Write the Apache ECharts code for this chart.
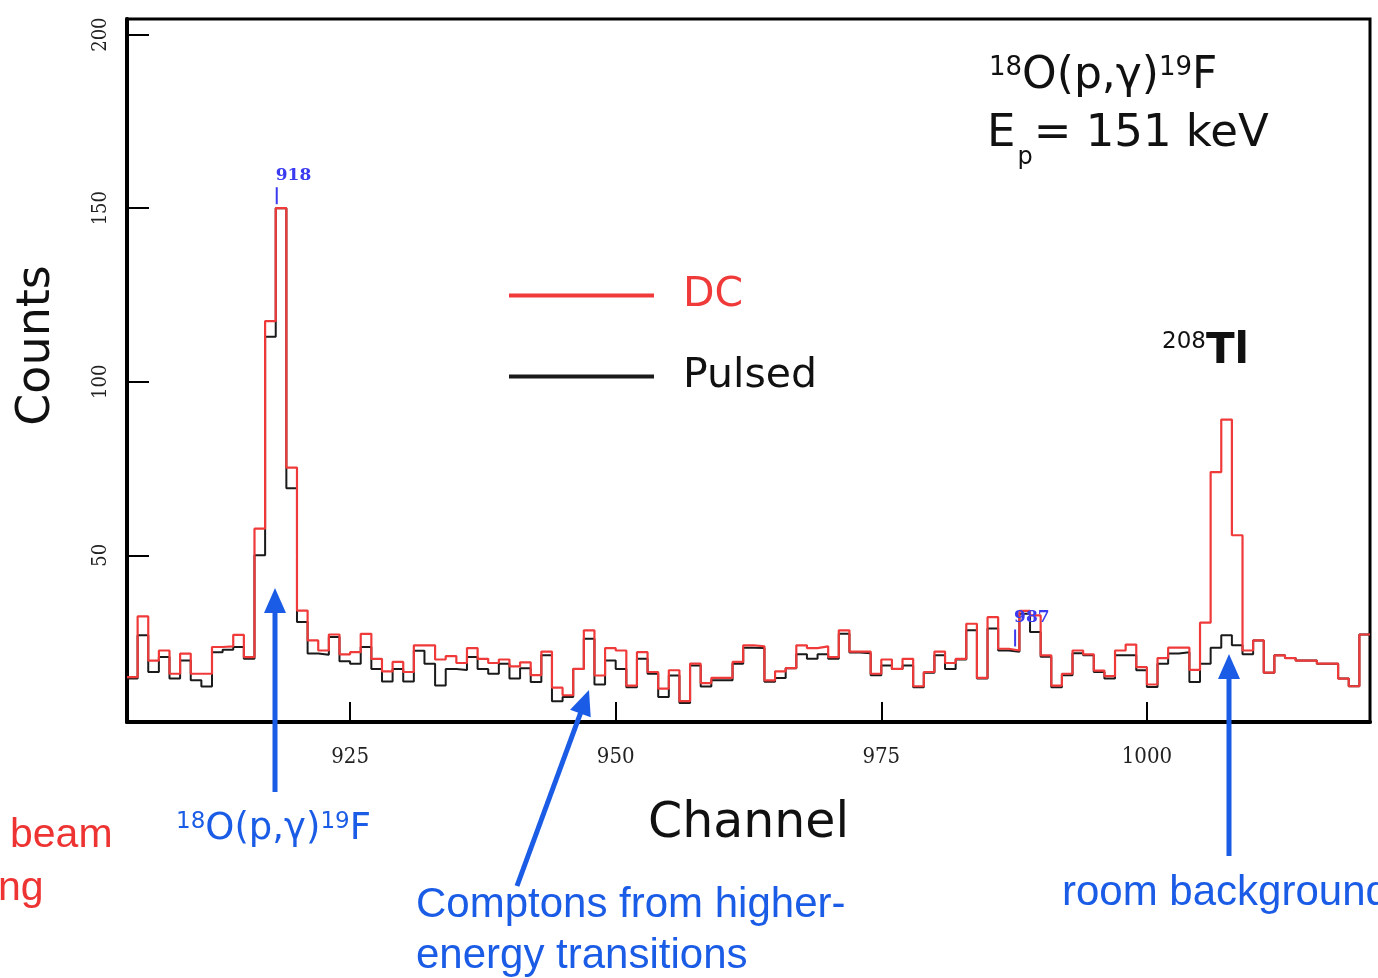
<!DOCTYPE html>
<html><head><meta charset="utf-8">
<script src="https://cdn.jsdelivr.net/npm/echarts@6/dist/echarts.min.js"></script>
<style>html,body{margin:0;padding:0;background:#fff;} #c{width:1378px;height:978px;}</style>
</head><body><div id="c"></div>
<script>
// ---- data (channel bins of width 1, starting at channelStart) ----
const channelStart = 904;
const dcCounts = [
  14.9, 32.4, 19.7, 22.6, 15.9, 21.7, 15.9, 15.9, 23.6, 23.8,
  27.1, 20.7, 57.7, 117.5, 150, 75.3, 34.1, 25.5, 22.6, 27.2,
  21.5, 22.1, 27.4, 20.2, 16.6, 19.3, 16.4, 24.1, 24.1, 20,
  21, 19, 23.3, 20.2, 19, 20, 18, 19.2, 15.5, 22.3,
  11.9, 9.7, 17.3, 28.4, 15.4, 23.3, 22.6, 12.5, 22.1, 16.4,
  11.6, 16.9, 8, 18.8, 13.2, 14.7, 14.7, 19.3, 24.1, 23.8,
  14, 16.6, 17.5, 24.1, 23.3, 23.8, 20.7, 28.4, 22.3, 22.3,
  15.9, 20, 17.3, 20.2, 12.3, 16.4, 22.3, 19, 20.2, 30.3,
  14.7, 32.2, 23.1, 22.6, 34, 32.7, 21.2, 12.5, 15.9, 22.6,
  21.5, 16.8, 15.2, 22.6, 24.3, 17.8, 12.8, 20.4, 23.4, 23.4,
  17, 30.6, 74, 89.1, 55.8, 22.6, 25.5, 16.2, 21.2, 20.4,
  19.7, 19.7, 18.8, 18.8, 14.5, 12.3, 27.2
];
const pulsedCounts = [
  14.5, 27, 16.4, 20.7, 14.5, 19.7, 14, 12.2, 22.1, 22.8,
  23.6, 20.2, 50, 113, 150, 69.3, 30.8, 21.7, 21.4, 26.5,
  19.5, 18.8, 23.6, 17.3, 13.7, 17.3, 13.7, 22.5, 18.8, 12.5,
  17.3, 17, 20.7, 17.3, 15.9, 18.8, 14.5, 17.5, 13.5, 21.2,
  8, 9.2, 17.3, 26, 12.8, 19.7, 17.3, 12, 20.2, 15.9,
  9.2, 15.4, 7.5, 18.3, 12.2, 14, 14, 18.8, 23.4, 23.3,
  13.6, 14.7, 17.5, 21.5, 20.2, 21.5, 20.2, 27.4, 22, 21.8,
  15.5, 18.3, 17.3, 18.3, 12, 16.2, 21.2, 17.3, 20, 28.4,
  14.5, 28.9, 22.6, 22.2, 33.2, 27.9, 20.8, 12, 15.5, 21.8,
  21.2, 16.4, 14.5, 21.2, 21.2, 16.9, 12.1, 18.8, 21.7, 22.1,
  13.5, 18.8, 23.4, 27, 24.1, 21.5, 25.5, 16.2, 21.2, 20.4,
  19.7, 19.7, 18.8, 18.8, 14.5, 12.3, 27.2
];
const xTickValues = [925, 950, 975, 1000];
const yTickValues = [50, 100, 150, 200];
const peakMarks = [{ channel: 918, text: '918' }, { channel: 987.5, text: '987' }];
const seriesNames = ['DC', 'Pulsed'];

// ---- helpers ----
function toSteps(vals) {
  const pts = vals.map((v, i) => [channelStart + i, v]);
  pts.push([channelStart + vals.length, vals[vals.length - 1]]);
  return pts;
}
const RED = '#f03a3a';
const BLACK = '#1a1a1a';
const BLUE = '#1b5ce6';
const MARK = '#3a3af0';
const ARIAL = 'Liberation Sans, Arial, sans-serif';
const VERA = 'DejaVu Sans, sans-serif';
const NARROW = 'DejaVu Serif Condensed, Liberation Serif, serif';

const chart = echarts.init(document.getElementById('c'));
chart.setOption({
  backgroundColor: '#ffffff',
  animation: false,
  grid: { left: 127, right: 8, top: 19, bottom: 256, show: true, borderColor: '#000', borderWidth: 3, backgroundColor: 'transparent' },
  legend: {
    orient: 'vertical', left: 504, top: 270, itemWidth: 145, itemHeight: 4, itemGap: 40, icon: 'rect',
    data: [
      { name: seriesNames[0], textStyle: { color: RED } },
      { name: seriesNames[1], textStyle: { color: '#111' } }
    ],
    textStyle: { fontFamily: VERA, fontSize: 41, padding: [0, 0, 0, 24] }
  },
  xAxis: {
    type: 'value', min: 904, max: 1021,
    name: 'Channel', nameLocation: 'middle', nameGap: 78,
    nameTextStyle: { fontFamily: VERA, fontSize: 49, color: '#111' },
    axisLine: { show: true, onZero: false, lineStyle: { color: '#000', width: 4 } },
    axisTick: { show: true, inside: true, length: 20, customValues: xTickValues, lineStyle: { color: '#000', width: 2 } },
    axisLabel: { customValues: xTickValues, margin: 24, fontFamily: NARROW, fontSize: 22, color: '#222', formatter: v => String(v) },
    splitLine: { show: false }
  },
  yAxis: {
    type: 'value', min: 2, max: 204.5,
    name: 'Counts', nameLocation: 'middle', nameGap: 67, nameRotate: 90,
    nameTextStyle: { fontFamily: VERA, fontSize: 46, color: '#111', padding: [0, 0, 0, 50] },
    axisLine: { show: true, onZero: false, lineStyle: { color: '#000', width: 4 } },
    axisTick: { show: true, inside: true, length: 22, customValues: yTickValues, lineStyle: { color: '#000', width: 2 } },
    axisLabel: { customValues: yTickValues, rotate: 90, margin: 16, fontFamily: NARROW, fontSize: 20, color: '#222' },
    splitLine: { show: false }
  },
  series: [
    { name: seriesNames[1], type: 'line', step: 'end', data: toSteps(pulsedCounts), showSymbol: false, symbol: 'none',
      lineStyle: { color: BLACK, width: 2 }, itemStyle: { color: BLACK }, z: 2 },
    { name: seriesNames[0], type: 'line', step: 'end', data: toSteps(dcCounts), showSymbol: false, symbol: 'none',
      lineStyle: { color: RED, width: 2.2 }, itemStyle: { color: RED }, z: 3 }
  ]
});

// ---- annotations ----
const g = [];
// peak-finder markers, anchored through the axes
peakMarks.forEach(m => {
  const idx = Math.floor(m.channel) - channelStart;
  const p = chart.convertToPixel({ gridIndex: 0 }, [m.channel, dcCounts[idx]]);
  g.push({ type: 'line', shape: { x1: p[0] + 1, y1: p[1] - 4, x2: p[0] + 1, y2: p[1] - 21 }, style: { stroke: MARK, lineWidth: 2 }, z: 20 });
  g.push({ type: 'text', x: p[0], y: p[1] - 41, style: { text: m.text, fontFamily: 'DejaVu Serif, serif', fontWeight: 'bold', fontSize: 17, fill: MARK }, z: 20 });
});
const sup = (size, color) => ({ fontFamily: VERA, fontSize: size, verticalAlign: 'top', fill: color });
const main = (size, color, lh) => ({ fontFamily: VERA, fontSize: size, verticalAlign: 'top', fill: color, lineHeight: lh });
// reaction label top right
g.push({ type: 'text', left: 989, top: 55, style: {
  text: '{s|18}{m|O(p,γ)}{s|19}{m|F}',
  rich: { s: sup(26, '#111'), m: main(44, '#111', 50) }
}, z: 20 });
g.push({ type: 'text', left: 987, top: 112, style: {
  text: '{m|E}{p|p}{m|= 151 keV}',
  rich: { m: main(45, '#111', 50), p: { fontFamily: VERA, fontSize: 24, verticalAlign: 'top', padding: [34, 1, 0, 2], fill: '#111' } }
}, z: 20 });
// 208Tl label
g.push({ type: 'text', left: 1162, top: 331, style: {
  text: '{s|208}{m|Tl}',
  rich: { s: sup(23, '#111'), m: { fontFamily: VERA, fontSize: 42, fontWeight: 'bold', verticalAlign: 'top', fill: '#111', lineHeight: 46 } }
}, z: 20 });
// blue arrows
function arrow(x1, y1, x2, y2) {
  const dx = x2 - x1, dy = y2 - y1, L = Math.hypot(dx, dy);
  const ux = dx / L, uy = dy / L, hl = 25, hw = 11;
  const bx = x2 - ux * hl, by = y2 - uy * hl;
  g.push({ type: 'line', shape: { x1, y1, x2: bx + ux * 2, y2: by + uy * 2 }, style: { stroke: BLUE, lineWidth: 5 }, z: 30 });
  g.push({ type: 'polygon', shape: { points: [[x2, y2], [bx - uy * hw, by + ux * hw], [bx + uy * hw, by - ux * hw]] }, style: { fill: BLUE }, z: 30 });
}
arrow(275, 792, 275, 588);
arrow(517, 886, 589, 690);
arrow(1229, 856, 1229, 654);
// blue / red captions
g.push({ type: 'text', left: 176, top: 811, style: {
  text: '{s|18}{m|O(p,γ)}{s|19}{m|F}',
  rich: { s: sup(23, BLUE), m: main(37, BLUE, 41) }
}, z: 20 });
g.push({ type: 'text', left: 416, top: 880, style: { text: 'Comptons from higher-\nenergy transitions', fontFamily: ARIAL, fontSize: 42, lineHeight: 51, fill: BLUE }, z: 20 });
g.push({ type: 'text', left: 1062, top: 872, style: { text: 'room background', fontFamily: ARIAL, fontSize: 42, fill: BLUE }, z: 20 });
g.push({ type: 'text', left: 10, top: 815, style: { text: 'beam', fontFamily: ARIAL, fontSize: 41, fill: '#ee3333' }, z: 20 });
g.push({ type: 'text', left: -2, top: 868, style: { text: 'ng', fontFamily: ARIAL, fontSize: 41, fill: '#ee3333' }, z: 20 });
chart.setOption({ graphic: g });
</script></body></html>
